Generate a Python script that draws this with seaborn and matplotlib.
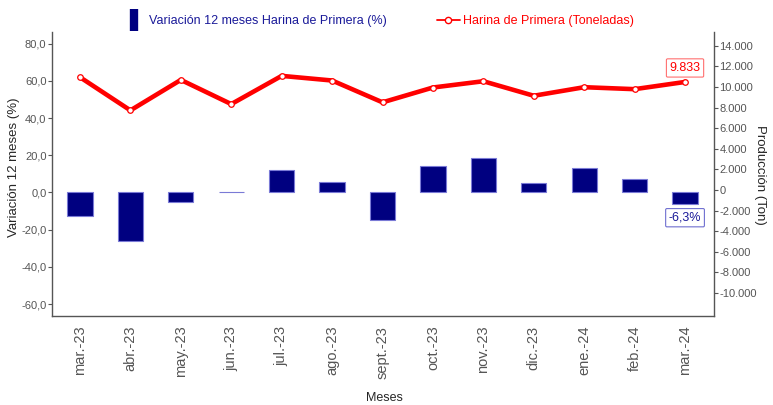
import numpy as np
import pandas as pd
import seaborn as sns
import matplotlib.pyplot as plt
from matplotlib.lines import Line2D
from matplotlib.ticker import FuncFormatter, FixedLocator

# datos
meses = ['mar.-23', 'abr.-23', 'may.-23', 'jun.-23', 'jul.-23', 'ago.-23', 'sept.-23',
         'oct.-23', 'nov.-23', 'dic.-23', 'ene.-24', 'feb.-24', 'mar.-24']
variacion = [-12.4, -26.2, -5.1, 0.5, 12.1, 5.4, -14.6, 14.4, 18.4, 5.0, 13.3, 7.4, -6.3]
produccion = [10950, 7730, 10690, 8340, 11080, 10630, 8510, 9950, 10560, 9150, 9980, 9790, 10490]
etiqueta_prod = '9.833'
etiqueta_var = '-6,3%'

sns.set_style('white')
plt.rcParams['font.family'] = ['Liberation Sans', 'DejaVu Sans']
gris = '#555555'

df = pd.DataFrame({'mes': meses, 'variacion': variacion, 'produccion': produccion})

fig = plt.figure(figsize=(7.73, 4.05), dpi=100)
ax = fig.add_axes([0.0673, 0.2198, 0.8564, 0.7012])

# barras variacion 12 meses
sns.barplot(data=df, x='mes', y='variacion', color='#000080', width=0.5,
            edgecolor='#7a7ad6', linewidth=0.8, saturation=1, ax=ax)

# linea produccion en eje secundario
ax2 = ax.twinx()
sns.lineplot(x=np.arange(len(df)), y=df['produccion'], ax=ax2, color='red', lw=3.3,
             marker='o', markersize=4, markerfacecolor='white', markeredgecolor='red',
             markeredgewidth=0.9)

ax.set_xlim(-0.555, 12.575)
ax.set_ylim(-66.4, 86.3)
ax2.set_ylim(-12230, 15340)

ax.yaxis.set_major_locator(FixedLocator(np.arange(-60, 81, 20)))
ax.yaxis.set_major_formatter(FuncFormatter(lambda v, p: f'{v:.1f}'.replace('.', ',')))
ax2.yaxis.set_major_locator(FixedLocator(np.arange(-10000, 14001, 2000)))
ax2.yaxis.set_major_formatter(FuncFormatter(lambda v, p: f'{int(v):,}'.replace(',', '.')))

for a in (ax, ax2):
    for s in a.spines.values():
        s.set_color(gris)
        s.set_linewidth(1.0)
    a.spines['top'].set_visible(False)
ax.spines['right'].set_visible(False)
ax2.spines['left'].set_visible(False)
ax2.spines['bottom'].set_visible(False)
ax.grid(False)
ax2.grid(False)

ax.tick_params(axis='x', rotation=90, length=4, color=gris, labelcolor=gris, labelsize=10.5, pad=3)
ax.tick_params(axis='y', left=True, length=3, color=gris, labelcolor=gris, labelsize=8, pad=1)
ax2.tick_params(axis='y', right=True, length=3, color=gris, labelcolor=gris, labelsize=8, pad=1)

ax.set_xlabel('Meses', fontsize=9, va='center')
ax.xaxis.set_label_coords(0.5015, -0.289)
ax.set_ylabel('Variación 12 meses (%)', fontsize=9.5, va='center')
ax.yaxis.set_label_coords(-0.0574, 0.5246)
ax2.set_ylabel('Producción (Ton)', fontsize=9.5, rotation=270, va='center')
ax2.yaxis.set_label_coords(1.0695, 0.4965)

# etiquetas del ultimo dato
ax2.annotate(etiqueta_prod, xy=(12, produccion[-1]), xytext=(0, 14), textcoords='offset pixels',
             ha='center', va='center', color='red', fontsize=9,
             bbox=dict(boxstyle='round,pad=0.25,rounding_size=0.1', fc='white', ec='#ff7070', lw=0.8))
ax.annotate(etiqueta_var, xy=(12, variacion[-1]), xytext=(0, -13.5), textcoords='offset pixels',
            ha='center', va='center', color='#1a1a99', fontsize=9,
            bbox=dict(boxstyle='round,pad=0.25,rounding_size=0.1', fc='white', ec='#6f6fd0', lw=0.8))

# leyenda superior
handles = [
    Line2D([], [], ls='none', marker='|', markersize=16, markeredgewidth=6, color='#000080'),
    Line2D([], [], color='red', lw=1.3, marker='o', markersize=4.5,
           markerfacecolor='white', markeredgecolor='red'),
]
fig.legend(handles, ['Variación 12 meses Harina de Primera (%)', 'Harina de Primera (Toneladas)'],
           loc='center', bbox_to_anchor=(0.49, 0.948), ncol=2, frameon=False,
           prop={'size': 9}, labelcolor=['#1a1a99', 'red'],
           handlelength=1.8, handletextpad=0.3, columnspacing=4)

fig.savefig('out.png', dpi=100)
